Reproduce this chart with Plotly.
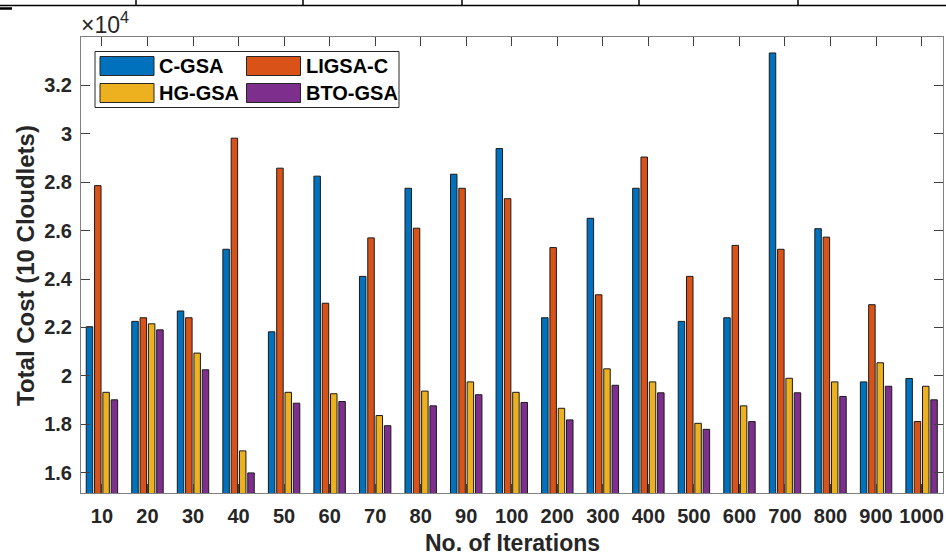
import plotly.graph_objects as go

# ---------------- data ----------------
iterations = ["10", "20", "30", "40", "50", "60", "70", "80", "90", "100",
              "200", "300", "400", "500", "600", "700", "800", "900", "1000"]
c_gsa   = [22030, 22250, 22680, 25230, 21820, 28250, 24110, 27750, 28330, 29390,
           22400, 26510, 27750, 22250, 22400, 33340, 26080, 19750, 19890]
ligsa_c = [27860, 22400, 22400, 29820, 28580, 23000, 25700, 26100, 27750, 27320,
           25300, 23350, 29040, 24110, 25390, 25230, 25730, 22940, 18110]
hg_gsa  = [19320, 22150, 20940, 16900, 19320, 19260, 18360, 19370, 19750, 19320,
           18660, 20290, 19750, 18040, 18760, 19900, 19750, 20540, 19570]
bto_gsa = [19010, 21900, 20250, 15990, 18870, 18940, 17940, 18760, 19220, 18900,
           18180, 19610, 19300, 17790, 18110, 19300, 19150, 19570, 19010]
series_names = ["C-GSA", "LIGSA-C", "HG-GSA", "BTO-GSA"]
series_values = [c_gsa, ligsa_c, hg_gsa, bto_gsa]
colors = ["#0072BD", "#D95319", "#EDB120", "#7E2F8E"]
ytick_vals = [16000, 18000, 20000, 22000, 24000, 26000, 28000, 30000, 32000]
ytick_text = ["1.6", "1.8", "2", "2.2", "2.4", "2.6", "2.8", "3", "3.2"]

# ---------------- layout geometry (pixels) ----------------
W, H = 946, 555
L, R, T, B = 81, 943, 37, 493
PW, PH = R - L, B - T


def px(x):
    return (x - L) / PW


def py(y):
    return (B - y) / PH


FONT = "Liberation Sans, Arial, sans-serif"
TXT = "#262626"

fig = go.Figure()
for name, vals, col in zip(series_names, series_values, colors):
    fig.add_trace(go.Bar(
        x=iterations, y=vals, name=name,
        marker=dict(color=col, line=dict(color="#1a1a1a", width=1)),
        showlegend=False,
    ))

shapes = []
annotations = []

# custom MATLAB-like legend
shapes.append(dict(type="rect", xref="paper", yref="paper",
                   x0=px(95), x1=px(399), y0=py(107.5), y1=py(51.5),
                   line=dict(color="#262626", width=1), fillcolor="white", layer="above"))
col_x = [100, 246.5]
row_y = [(56.5, 75.5), (83.5, 102.5)]
for i, (name, col) in enumerate(zip(series_names, colors)):
    r, c = divmod(i, 2)
    y0, y1 = row_y[r]
    x0 = col_x[c]
    shapes.append(dict(type="rect", xref="paper", yref="paper",
                       x0=px(x0), x1=px(x0 + 54), y0=py(y1), y1=py(y0),
                       line=dict(color="#262626", width=1), fillcolor=col, layer="above"))
    annotations.append(dict(xref="paper", yref="paper", x=px(x0 + 57), y=py((y0 + y1) / 2),
                            xanchor="left", yanchor="middle", showarrow=False,
                            text=name, font=dict(family=FONT, size=20, color="black", weight="bold")))

# cropped table border at top of the image
shapes.append(dict(type="line", xref="paper", yref="paper", x0=px(0), x1=px(946),
                   y0=py(5.5), y1=py(5.5), line=dict(color="black", width=1.5)))
for xv in [136, 303, 462, 639, 798]:
    shapes.append(dict(type="line", xref="paper", yref="paper", x0=px(xv), x1=px(xv),
                       y0=py(0), y1=py(5.5), line=dict(color="black", width=1.5)))
shapes.append(dict(type="line", xref="paper", yref="paper", x0=px(0), x1=px(12),
                   y0=py(8.5), y1=py(8.5), line=dict(color="black", width=2.5)))

# exponent label
annotations.append(dict(xref="paper", yref="paper", x=px(80), y=py(23), xanchor="left", yanchor="middle",
                        showarrow=False, text="×10<sup>4</sup>", borderpad=0,
                        font=dict(family=FONT, size=23, color=TXT)))
# axis titles
annotations.append(dict(xref="paper", yref="paper", x=0.5, y=py(543), xanchor="center", yanchor="middle",
                        showarrow=False, text="No. of Iterations", borderpad=0,
                        font=dict(family=FONT, size=23, color=TXT, weight="bold")))
annotations.append(dict(xref="paper", yref="paper", x=px(25), y=py(266), xanchor="center", yanchor="middle",
                        showarrow=False, text="Total Cost (10 Cloudlets)", textangle=-90,
                        font=dict(family=FONT, size=24, color=TXT, weight="bold")))

fig.update_layout(
    width=W, height=H, autosize=False,
    margin=dict(l=L, r=W - R, t=T, b=H - B, pad=0),
    paper_bgcolor="white", plot_bgcolor="white",
    barmode="group", bargap=0.27, bargroupgap=0.22,
    shapes=shapes, annotations=annotations,
    font=dict(family=FONT, color=TXT),
)
fig.update_xaxes(
    type="category", range=[-0.46, 18.47],
    showline=True, linecolor="#808080", linewidth=1, mirror="ticks",
    ticks="inside", ticklen=9, tickcolor="#404040", tickwidth=1,
    showgrid=False, zeroline=False,
    tickfont=dict(family=FONT, size=20, color=TXT, weight="bold"),
    ticklabelstandoff=5,
)
fig.update_yaxes(
    range=[15160, 34000],
    tickvals=ytick_vals, ticktext=ytick_text,
    showline=True, linecolor="#808080", linewidth=1, mirror="ticks",
    ticks="inside", ticklen=9, tickcolor="#404040", tickwidth=1,
    showgrid=False, zeroline=False,
    tickfont=dict(family=FONT, size=20, color=TXT, weight="bold"),
    ticklabelstandoff=4,
)

fig.write_html("out.html")
